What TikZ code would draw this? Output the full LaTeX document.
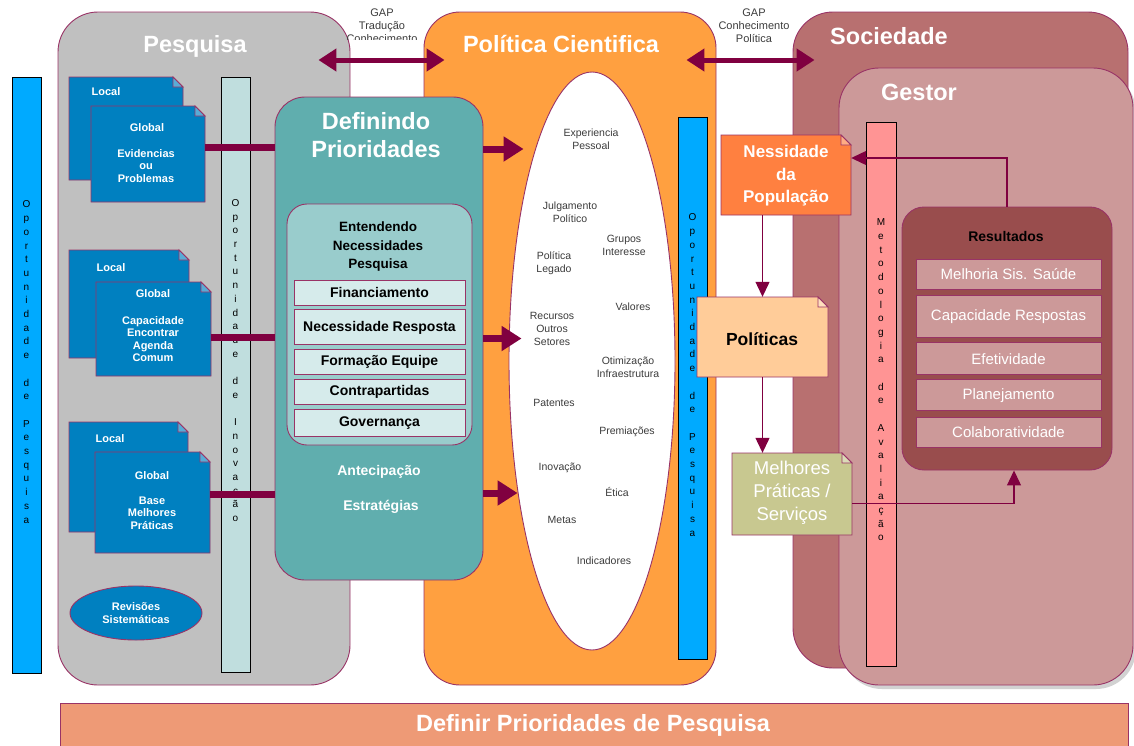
\documentclass[tikz,border=0pt]{standalone}
\usepackage{fontspec}
\setmainfont{Liberation Sans}
\usepackage{tikz}
\usetikzlibrary{arrows.meta,positioning,shapes.geometric,shadows,fit}
\definecolor{pesqGray}{RGB}{192,192,192}
\definecolor{polOrange}{RGB}{255,160,64}
\definecolor{socRose}{RGB}{184,112,112}
\definecolor{gestorRose}{RGB}{204,153,153}
\definecolor{defTeal}{RGB}{96,174,174}
\definecolor{entTeal}{RGB}{153,204,204}
\definecolor{itemTeal}{RGB}{214,235,235}
\definecolor{docBlue}{RGB}{0,128,192}
\definecolor{oppBlue}{RGB}{0,170,255}
\definecolor{inovTeal}{RGB}{192,222,222}
\definecolor{metPink}{RGB}{255,148,148}
\definecolor{necOrange}{RGB}{255,128,64}
\definecolor{polPeach}{RGB}{255,204,153}
\definecolor{pratOlive}{RGB}{200,200,144}
\definecolor{resBrown}{RGB}{153,77,77}
\definecolor{baseSalmon}{RGB}{238,154,118}
\definecolor{edgeMaroon}{RGB}{153,51,102}
\definecolor{arrowMaroon}{RGB}{128,0,64}
\definecolor{txtGray}{RGB}{60,60,60}

\newcommand{\fsz}[2]{\fontsize{#1}{#2}\selectfont}

% folded note: name, x1, y1, x2, y2, fill
\newcommand{\notedoc}[6]{%
  \draw[rim, fill=#6] (#2,#3) -- (#4-10,#3) -- (#4,#3+10) -- (#4,#5) -- (#2,#5) -- cycle;
  \draw[rim, fill=#6!65!white] (#4-10,#3) -- (#4-10,#3+10) -- (#4,#3+10) -- cycle;
  \coordinate (#1-nw) at (#2,#3);
  \coordinate (#1-se) at (#4,#5);
  \node[fit=(#1-nw)(#1-se), inner sep=0pt] (#1) {};
}

\begin{document}
\begin{tikzpicture}[x=1pt, y=-1pt,
  rim/.style={draw=edgeMaroon, line width=0.9pt},
  bigbox/.style={rim, rounded corners=40pt},
  title/.style={text=white, font=\fsz{23.5}{28}\bfseries, align=center},
  bar/.style={draw=black, line width=1pt},
  stack/.style={font=\fsz{10}{13.7}, align=center, inner sep=0pt},
  item/.style={rim, fill=itemTeal, minimum width=171pt, font=\fsz{14}{16}\bfseries},
  resitem/.style={rim, fill=gestorRose, minimum width=185pt, text=white, font=\fsz{15}{17}},
  doctxt/.style={text=white, font=\fsz{11}{12.5}\bfseries, align=center},
  factor/.style={text=txtGray, font=\fsz{10.5}{13}, align=center},
  gaptxt/.style={text=txtGray, font=\fsz{11}{13}, align=center},
  thickbar/.style={arrowMaroon, line width=7pt},
  bigarrow/.style={thickbar, -{Triangle[length=20pt,width=24pt]}},
  gaparrow/.style={arrowMaroon, line width=5pt, {Triangle[length=18pt,width=22pt]}-{Triangle[length=18pt,width=22pt]}},
  thinarrow/.style={arrowMaroon, line width=1.2pt, -{Triangle[length=15pt,width=14pt]}}]
\useasboundingbox (0,0) rectangle (1134,745);

% far left bar
\node[bar, fill=oppBlue, minimum width=29pt, minimum height=596pt] (oppleft) at (26.5,375) {};
\node[stack, yshift=13pt] (oppleftTxt) at (oppleft) {O\\p\\o\\r\\t\\u\\n\\i\\d\\a\\d\\e\\~\\d\\e\\~\\P\\e\\s\\q\\u\\i\\s\\a};

% containers
\node[bigbox, fill=pesqGray, minimum width=292pt, minimum height=673pt] (pesquisa) at (204,348.5) {};
\node[bigbox, fill=polOrange, rounded corners=36pt, minimum width=292pt, minimum height=673pt] (politica) at (570,348.5) {};
\node[bigbox, fill=socRose, minimum width=335pt, minimum height=656pt] (sociedade) at (960.5,340) {};
\node[bigbox, fill=gestorRose, minimum width=294pt, minimum height=617pt,
  drop shadow={shadow xshift=3pt, shadow yshift=-4pt, fill=black!35}] (gestor) at (986,376.5) {};
\node[title, anchor=base] (pesqTitle) at (195,52) {Pesquisa};
\node[title, anchor=base] (polTitle) at (561,52) {Política Cientifica};
\node[title, anchor=base] (socTitle) at (889,44) {Sociedade};
\node[title, anchor=base] (gestorTitle) at (919,100) {Gestor};

% pesquisa column
\node[bar, fill=inovTeal, minimum width=29pt, minimum height=595pt] (inovbar) at (235.5,374.5) {};
\node[stack, yshift=14pt] (inovTxt) at (inovbar) {O\\p\\o\\r\\t\\u\\n\\i\\d\\a\\d\\e\\~\\d\\e\\~\\I\\n\\o\\v\\a\\ç\\ã\\o};

\notedoc{loc1}{69}{77}{183}{180}{docBlue}
\notedoc{glob1}{91}{106}{205}{202}{docBlue}
\notedoc{loc2}{69}{250}{189}{358}{docBlue}
\notedoc{glob2}{96}{282}{211}{376}{docBlue}
\notedoc{loc3}{69}{422}{188}{532}{docBlue}
\notedoc{glob3}{95}{452}{210}{553}{docBlue}

\node[doctxt, anchor=base] (loc1Txt) at (106,95) {Local};
\node[doctxt, anchor=base] (glob1Txt) at (147,131) {Global};
\node[doctxt] (glob1Body) at (146,166) {Evidencias\\ou\\Problemas};
\node[doctxt, anchor=base] (loc2Txt) at (111,271) {Local};
\node[doctxt, anchor=base] (glob2Txt) at (153,297) {Global};
\node[doctxt] (glob2Body) at (153,339) {Capacidade\\Encontrar\\Agenda\\Comum};
\node[doctxt, anchor=base] (loc3Txt) at (110,442) {Local};
\node[doctxt, anchor=base] (glob3Txt) at (152,479) {Global};
\node[doctxt] (glob3Body) at (152,513) {Base\\Melhores\\Práticas};

\node[ellipse, rim, fill=docBlue, minimum width=132pt, minimum height=54pt, doctxt] (revisoes) at (136,613) {Revisões\\Sistemáticas};

% definindo prioridades
\node[rim, fill=defTeal, rounded corners=30pt, minimum width=208pt, minimum height=483pt] (defbox) at (379,338.5) {};
\node[title] (defTitle) at (376,135) {Definindo\\Prioridades};
\node[rim, fill=entTeal, rounded corners=20pt, minimum width=185pt, minimum height=241pt] (entbox) at (379.5,324.5) {};
\node[font=\fsz{13.5}{18.5}\bfseries, align=center] (entTitle) at (378,247) {Entendendo\\Necessidades\\Pesquisa};
\node[item, minimum height=25pt] (fin) at (379.5,292.5) {Financiamento};
\node[item, minimum height=35pt, below=4pt of fin] (necresp) {Necessidade Resposta};
\node[item, minimum height=25pt, below=4pt of necresp] (formacao) {Formação Equipe};
\node[item, minimum height=25pt, below=4pt of formacao] (contra) {Contrapartidas};
\node[item, minimum height=27pt, below=4pt of contra] (gov) {Governança};
\node[text=white, font=\fsz{14}{16}\bfseries, anchor=base] (antecip) at (379,475) {Antecipação};
\node[text=white, font=\fsz{14}{16}\bfseries, anchor=base] (estrat) at (381,510) {Estratégias};

% politica cientifica
\node[ellipse, rim, fill=white, minimum width=166pt, minimum height=578pt] (factors) at (592,361) {};
\foreach \x/\y/\t [count=\i] in {591/139/Experiencia\\Pessoal, 570/212/Julgamento\\Político,
    624/245/Grupos\\Interesse, 554/263/Política\\Legado, 633/307/Valores,
    552/329/Recursos\\Outros\\Setores, 628/367/Otimização\\Infraestrutura,
    554/403/Patentes, 627/432/Premiações, 560/468/Inovação, 617/492/Ética,
    562/520/Metas, 604/561/Indicadores}
  \node[factor] (factor\i) at (\x,\y) {\t};

\node[bar, fill=oppBlue, minimum width=29pt, minimum height=542pt] (oppright) at (692.5,388) {};
\node[stack, yshift=13pt] (opprightTxt) at (oppright) {O\\p\\o\\r\\t\\u\\n\\i\\d\\a\\d\\e\\~\\d\\e\\~\\P\\e\\s\\q\\u\\i\\s\\a};

% gestor side
\node[bar, fill=metPink, minimum width=30pt, minimum height=544pt] (metbar) at (881,394) {};
\node[stack, yshift=14pt] (metTxt) at (metbar) {M\\e\\t\\o\\d\\o\\l\\o\\g\\i\\a\\~\\d\\e\\~\\A\\v\\a\\l\\i\\a\\ç\\ã\\o};

\node[rim, fill=resBrown, rounded corners=22pt, minimum width=210pt, minimum height=263pt] (resultados) at (1007,338.5) {};
\node[font=\fsz{14}{16}\bfseries, anchor=base] (resTitle) at (1006,241) {Resultados};
\node[resitem, minimum height=30pt] (melhoria) at (1008.5,274) {Melhoria Sis. Saúde};
\node[resitem, minimum height=42pt, below=6pt of melhoria] (capac) {Capacidade Respostas};
\node[resitem, minimum height=32pt, below=4pt of capac] (efetiv) {Efetividade};
\node[resitem, minimum height=31pt, below=4pt of efetiv] (planej) {Planejamento};
\node[resitem, minimum height=30pt, below=6pt of planej] (colab) {Colaboratividade};

\notedoc{necpop}{721}{135}{851}{215}{necOrange}
\notedoc{politicas}{697}{297}{828}{377}{polPeach}
\notedoc{praticas}{732}{453}{852}{535}{pratOlive}
\node[text=white, font=\fsz{17}{22.5}\bfseries, align=center] (necTxt) at (786,176) {Nessidade\\da\\População};
\node[font=\fsz{17.5}{20}\bfseries, anchor=base] (polTxt) at (762,345) {Políticas};
\node[text=white, font=\fsz{18.5}{23}, align=center] (pratTxt) at (792,493) {Melhores\\Práticas /\\Serviços};

% links into definindo prioridades
\coordinate (c1) at ([yshift=7pt]glob1.east);
\coordinate (c2) at ([yshift=-8pt]glob2.east);
\coordinate (c3) at ([yshift=8.5pt]glob3.east);
\foreach \c in {c1,c2,c3}
  \draw[thickbar] (\c) -- (\c -| defbox.west);

\coordinate (d1) at ([yshift=189.5pt]defbox.east);
\coordinate (d2) at (defbox.east);
\coordinate (d3) at ([yshift=-154.5pt]defbox.east);
\draw[bigarrow, shorten >=-15pt] (d1) -- (d1 -| factors.west);
\draw[bigarrow, shorten >=-13pt] (d2) -- (d2 -| factors.west);
\draw[bigarrow, shorten >=-9pt] (d3) -- (d3 -| factors.west);

% flow on the right
\draw[thinarrow] (necpop.south -| politicas.north) -- (politicas.north);
\draw[thinarrow] (politicas.south) -- (politicas.south |- praticas.north);
\coordinate (n1) at ([yshift=17pt]necpop.east);
\draw[thinarrow] (resultados.north) |- (n1);
\coordinate (p1) at ([yshift=-9.5pt]praticas.east);
\draw[thinarrow] (p1) -| ([xshift=7pt]resultados.south);

% gaps between the blocks
\begin{scope}
  \clip (340,0) rectangle (425,39);
  \node[gaptxt] (gap1) at (382,26) {GAP\\Tradução\\Conhecimento};
\end{scope}
\node[gaptxt] (gap2) at (754,25.5) {GAP\\Conhecimento\\Política};
\coordinate (gaprow) at (0,60);
\coordinate (g1) at (pesquisa.east |- gaprow);
\coordinate (g2) at (politica.west |- gaprow);
\coordinate (g3) at (politica.east |- gaprow);
\coordinate (g4) at (sociedade.west |- gaprow);
\draw[gaparrow, shorten <=-32pt, shorten >=-21pt] (g1) -- (g2);
\draw[gaparrow, shorten <=-30pt, shorten >=-22pt] (g3) -- (g4);

% bottom band
\node[rim, fill=baseSalmon, minimum width=1068pt, minimum height=46pt] (base) at (594,726) {};
\node[title, anchor=base] (baseTxt) at (593,731) {Definir Prioridades de Pesquisa};
\end{tikzpicture}
\end{document}
